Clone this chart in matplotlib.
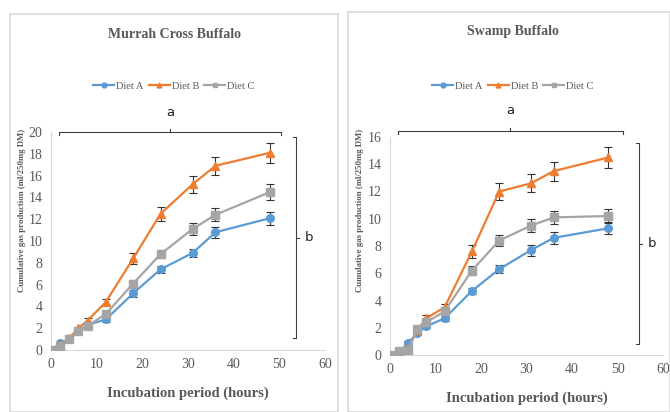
import matplotlib
matplotlib.use("Agg")
import matplotlib.pyplot as plt
from matplotlib.patches import Rectangle
from matplotlib.lines import Line2D

# incubation times (hours)
hours = [0, 2, 4, 6, 8, 12, 18, 24, 31, 36, 48]

# Murrah Cross Buffalo
murrah_a = [0, 0.6, 1.0, 1.7, 2.3, 2.8, 5.2, 7.4, 8.9, 10.8, 12.1]
murrah_b = [0, 0.5, 1.1, 2.0, 2.7, 4.4, 8.4, 12.5, 15.2, 16.9, 18.1]
murrah_c = [0, 0.4, 1.0, 1.7, 2.2, 3.3, 6.1, 8.8, 11.1, 12.4, 14.5]
murrah_a_err = [0, 0.1, 0.1, 0.1, 0.15, 0.2, 0.3, 0.35, 0.4, 0.5, 0.6]
murrah_b_err = [0, 0.1, 0.1, 0.15, 0.2, 0.3, 0.5, 0.65, 0.8, 0.85, 0.9]
murrah_c_err = [0, 0.1, 0.1, 0.1, 0.15, 0.25, 0.35, 0.4, 0.55, 0.6, 0.7]

# Swamp Buffalo
swamp_a = [0, 0.2, 0.9, 1.6, 2.1, 2.7, 4.7, 6.3, 7.7, 8.6, 9.3]
swamp_b = [0, 0.3, 0.5, 1.8, 2.7, 3.5, 7.6, 12.0, 12.6, 13.5, 14.5]
swamp_c = [0, 0.3, 0.4, 1.9, 2.4, 3.2, 6.2, 8.4, 9.5, 10.1, 10.2]
swamp_a_err = [0, 0.1, 0.1, 0.1, 0.15, 0.2, 0.2, 0.3, 0.4, 0.45, 0.45]
swamp_b_err = [0, 0.1, 0.1, 0.15, 0.2, 0.25, 0.45, 0.6, 0.65, 0.7, 0.75]
swamp_c_err = [0, 0.1, 0.1, 0.15, 0.2, 0.25, 0.3, 0.4, 0.45, 0.5, 0.5]

diet_names = ["Diet A", "Diet B", "Diet C"]
colors = ["#5B9BD5", "#ED7D31", "#A5A5A5"]
markers = ["o", "^", "s"]
grey_txt = "#595959"
serif = ["Liberation Serif", "DejaVu Serif"]

W, H = 670, 412
fig = plt.figure(figsize=(W / 100, H / 100), dpi=100)


def fx(px):
    return px / W


def fy(py):
    return 1 - py / H


# panel frames
for x0, y0, x1 in [(10, 14, 338), (348, 12, 670)]:
    fig.patches.append(Rectangle((fx(x0), 0), fx(x1) - fx(x0), fy(y0),
                                 transform=fig.transFigure, fill=False,
                                 edgecolor="#D9D9D9", linewidth=1.2))


def draw_panel(box, series, errs, ymax, title, title_xy, legend_y,
               a_span, a_y, a_lab_y, b_x, b_span, b_lab_x, ylab_x):
    ax = fig.add_axes(box)
    for vals, err, c, m, name in zip(series, errs, colors, markers, diet_names):
        ax.errorbar(hours, vals, yerr=err, color=c, marker=m, markersize=5.5,
                    linewidth=1.6, ecolor="#333333", elinewidth=0.8,
                    capsize=2.8, capthick=0.8, label=name, zorder=3)
    ax.set_xlim(0, 60)
    ax.set_ylim(0, ymax)
    ax.set_xticks(range(0, 61, 10))
    ax.set_yticks(range(0, ymax + 1, 2))
    for s in ["top", "right"]:
        ax.spines[s].set_visible(False)
    for s in ["left", "bottom"]:
        ax.spines[s].set_color("#D9D9D9")
    ax.tick_params(length=0, labelsize=10, colors=grey_txt, pad=6)
    for lab in ax.get_xticklabels() + ax.get_yticklabels():
        lab.set_family(serif)
    ax.set_xlabel("Incubation period (hours)", family=serif, fontsize=10.5,
                  fontweight="bold", color=grey_txt, labelpad=11)

    fig.text(title_xy[0], title_xy[1], title, family=serif, fontsize=10,
             fontweight="bold", color=grey_txt, ha="center", va="center")
    fig.text(ylab_x, fy(210), "Cumulative gas production (ml/250mg DM)",
             family=serif, fontsize=6.3, fontweight="bold", color=grey_txt,
             rotation=90, ha="center", va="center")

    handles = [Line2D([], [], color=c, marker=m, markersize=3.5, linewidth=1.6)
               for c, m in zip(colors, markers)]
    fig.legend(handles, diet_names, loc="center", ncol=3, frameon=False,
               bbox_to_anchor=(title_xy[0], legend_y), prop={"family": serif, "size": 7.5},
               labelcolor=grey_txt, handlelength=2.0, handletextpad=0.2,
               columnspacing=0.5)

    t = ax.transAxes
    # bracket "a"
    x0, x1 = a_span
    ax.plot([x0, x0, x1, x1], [a_y - 0.015, a_y, a_y, a_y - 0.015], transform=t,
            color="#404040", lw=0.8, clip_on=False)
    xm = (x0 + x1) / 2
    ax.plot([xm, xm], [a_y, a_y + 0.015], transform=t, color="#404040",
            lw=0.8, clip_on=False)
    ax.text(xm, a_lab_y, "a", transform=t, fontsize=9.5, ha="center",
            va="center", family="DejaVu Sans", color="#222222")
    # bracket "b"
    y0, y1 = b_span
    ax.plot([b_x - 0.01, b_x, b_x, b_x - 0.01], [y0, y0, y1, y1], transform=t,
            color="#404040", lw=0.8, clip_on=False)
    ym = (y0 + y1) / 2
    ax.plot([b_x, b_x + 0.01], [ym, ym], transform=t, color="#404040",
            lw=0.8, clip_on=False)
    ax.text(b_lab_x, ym, "b", transform=t, fontsize=9.5, ha="left",
            va="center", family="DejaVu Sans", color="#222222")
    return ax


draw_panel([fx(51), fy(350), fx(325) - fx(51), fy(132) - fy(350)],
           [murrah_a, murrah_b, murrah_c],
           [murrah_a_err, murrah_b_err, murrah_c_err], 20,
           "Murrah Cross Buffalo", (fx(174), fy(34)), fy(86),
           (0.029, 0.84), 1.0, 1.09, 0.894, (0.055, 0.975), 0.925, fx(22))

draw_panel([fx(390), fy(355), fx(663) - fx(390), fy(137) - fy(355)],
           [swamp_a, swamp_b, swamp_c],
           [swamp_a_err, swamp_b_err, swamp_c_err], 16,
           "Swamp Buffalo", (fx(513), fy(32)), fy(86),
           (0.029, 0.853), 1.028, 1.12, 0.912, (0.05, 0.972), 0.945, fx(360))

fig.savefig("out.png", dpi=100)
